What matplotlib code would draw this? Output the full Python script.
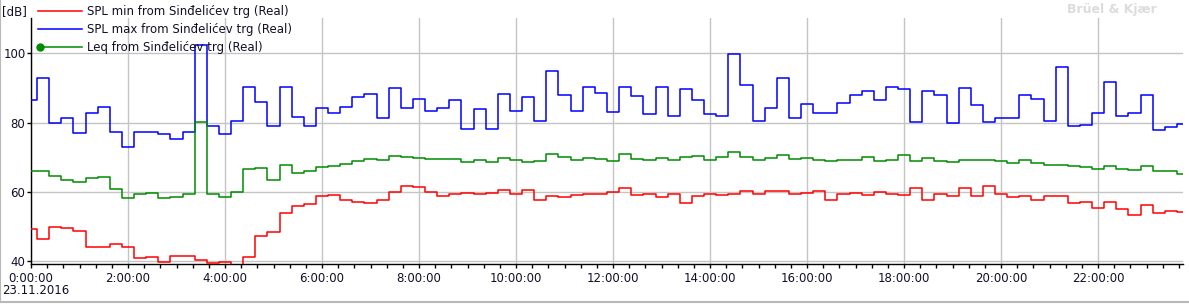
import numpy as np
import matplotlib
matplotlib.use("Agg")
import matplotlib.pyplot as plt
import matplotlib.dates as mdates
from matplotlib.lines import Line2D
from matplotlib.patches import Rectangle
import datetime as dt

# 15 min samples, 23.11.2016
start = dt.datetime(2016, 11, 23, 0, 0)
times = [start + dt.timedelta(minutes=15 * i) for i in range(96)]

spl_max = [86.4, 93.0, 80.0, 81.2, 76.9, 82.9, 84.6, 77.2, 73.1, 77.4, 77.4, 76.6,
           75.4, 77.2, 102.3, 79.1, 76.6, 80.6, 90.2, 86.1, 79.1, 90.4, 81.7, 79.1,
           84.3, 82.9, 84.6, 87.5, 88.4, 81.4, 90.1, 84.3, 86.9, 83.5, 84.3, 86.6,
           78.3, 84.0, 78.3, 88.4, 83.5, 87.5, 80.6, 95.0, 87.9, 83.5, 90.4, 88.5,
           83.2, 90.4, 87.8, 82.6, 90.4, 82.0, 89.8, 86.6, 82.4, 82.0, 99.9, 90.8,
           80.6, 84.3, 93.0, 81.4, 85.5, 82.9, 82.9, 85.8, 88.1, 89.0, 86.4, 90.4,
           89.8, 80.3, 89.2, 88.1, 80.0, 90.1, 85.2, 80.3, 81.2, 81.2, 88.1, 86.9,
           80.6, 96.2, 79.1, 79.4, 82.9, 91.6, 82.0, 82.9, 88.1, 78.0, 78.6, 79.7]

leq = [66.0, 66.0, 64.7, 63.5, 62.9, 64.1, 64.3, 60.9, 58.3, 59.4, 59.7, 58.3,
       58.6, 59.4, 80.3, 59.4, 58.6, 60.0, 66.6, 66.9, 63.5, 67.8, 65.5, 66.1,
       67.3, 67.6, 68.1, 69.0, 69.5, 69.2, 70.4, 70.1, 69.8, 69.6, 69.6, 69.6,
       68.7, 69.2, 68.7, 69.8, 69.2, 68.7, 69.0, 71.0, 70.0, 69.2, 69.8, 69.5,
       69.0, 71.0, 69.5, 69.2, 69.8, 69.2, 70.1, 70.4, 69.2, 70.1, 71.6, 70.1,
       69.2, 69.8, 70.7, 69.5, 69.8, 69.2, 69.0, 69.2, 69.2, 70.0, 69.0, 69.2,
       70.7, 69.0, 69.8, 69.0, 68.7, 69.2, 69.2, 69.2, 69.0, 68.4, 69.2, 68.4,
       67.8, 67.8, 67.5, 67.2, 66.6, 67.5, 66.6, 66.4, 67.5, 66.1, 66.1, 65.2]

spl_min = [49.2, 46.3, 49.8, 49.5, 48.6, 44.0, 44.0, 44.9, 44.0, 40.9, 41.1, 39.7,
           41.4, 41.4, 40.3, 39.4, 39.7, 38.5, 41.1, 47.2, 48.4, 53.8, 55.8, 56.5,
           58.7, 59.0, 57.8, 57.2, 56.7, 57.8, 60.1, 61.6, 61.3, 60.1, 58.7, 59.5,
           59.8, 59.5, 59.8, 60.6, 59.5, 60.6, 57.8, 58.7, 58.4, 59.0, 59.5, 59.5,
           60.1, 61.0, 59.0, 59.5, 58.4, 59.5, 56.9, 58.7, 59.3, 59.0, 59.5, 60.3,
           59.5, 60.3, 60.3, 59.3, 59.8, 60.3, 57.8, 59.3, 59.8, 59.0, 60.1, 59.5,
           59.0, 61.0, 57.8, 59.5, 58.7, 61.0, 58.7, 61.8, 59.5, 58.4, 58.7, 57.8,
           58.7, 58.7, 56.7, 57.2, 55.5, 57.2, 55.2, 53.2, 56.1, 53.8, 54.4, 54.1]

labels = ["SPL min from Sinđelićev trg (Real)",
          "SPL max from Sinđelićev trg (Real)",
          "Leq from Sinđelićev trg (Real)"]
colors = ["#ff0000", "#0000ff", "#008c00"]
txt_col = "#101028"

plt.rcParams["font.family"] = ["DejaVu Sans"]

fig = plt.figure(figsize=(11.89, 3.04), dpi=100)
ax = fig.add_axes([31 / 1189, 1 - 264 / 304, (1183 - 31) / 1189, (264 - 18) / 304])

ax.plot(times, spl_max, drawstyle="steps-mid", color=colors[1], lw=1.1, zorder=3)
ax.plot(times, leq, drawstyle="steps-mid", color=colors[2], lw=1.1, zorder=3)
ax.plot(times, spl_min, drawstyle="steps-mid", color=colors[0], lw=1.1, zorder=3)

ax.set_xlim(times[0], times[-1])
ax.set_ylim(39.2, 110.2)
ax.set_yticks([40, 60, 80, 100])

ax.xaxis.set_major_locator(mdates.HourLocator(byhour=range(0, 24, 2)))
ax.xaxis.set_minor_locator(mdates.MinuteLocator(byminute=[0, 20, 40]))
ax.xaxis.set_major_formatter(mdates.DateFormatter("%-H:%M:%S"))

ax.grid(True, which="major", color="#c4c4c4", lw=1)
ax.set_axisbelow(True)
for s in ["top", "right"]:
    ax.spines[s].set_visible(False)
for s in ["left", "bottom"]:
    ax.spines[s].set_color("black")
    ax.spines[s].set_linewidth(1)

ax.tick_params(axis="both", which="both", direction="out", length=3, width=1,
               colors="black", labelcolor=txt_col, labelsize=8.5)
ax.tick_params(axis="y", pad=1)
ax.tick_params(axis="x", pad=3)

# texts
fig.text(2 / 1189, 1 - 12 / 304, "[dB]", fontsize=8.5, color=txt_col, va="center")
fig.text(2 / 1189, 1 - 291 / 304, "23.11.2016", fontsize=8.5, color=txt_col, va="center")
fig.text(1157 / 1189, 1 - 10 / 304, "Brüel & Kjær", fontsize=9, color="#dcdcdc",
         ha="right", va="center", fontweight="bold")

# legend at top left
ys = [11, 29, 47]
for lab, c, y in zip(labels, colors, ys):
    fy = 1 - y / 304
    fig.add_artist(Line2D([38 / 1189, 82 / 1189], [fy, fy], color=c, lw=1.1))
    fig.text(87 / 1189, fy, lab, fontsize=8.5, color=txt_col, va="center")
fig.add_artist(Line2D([40 / 1189], [1 - 47 / 304], color=colors[2], marker="o",
                      markersize=5))

# outer frame
fig.add_artist(Rectangle((0, 2 / 304), 1.2, 1.2, fill=False, edgecolor="#b8b8b8",
                         lw=1.5, transform=fig.transFigure))

fig.savefig("out.png", dpi=100, facecolor="white")
